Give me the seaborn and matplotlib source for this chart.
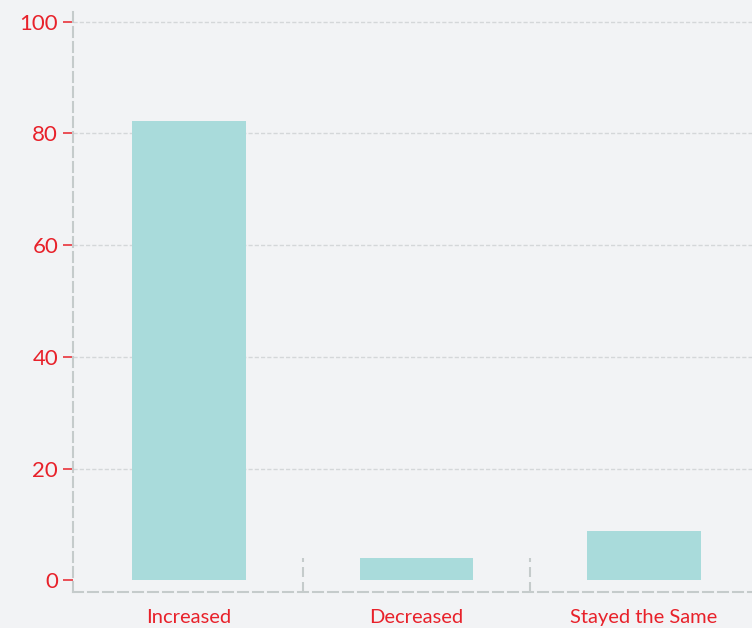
import numpy as np
import pandas as pd
import seaborn as sns
import matplotlib.pyplot as plt

categories = ['Increased', 'Decreased', 'Stayed the Same']
values = [82.3, 4.1, 8.9]
yticks = [0, 20, 40, 60, 80, 100]

BG = '#f2f3f5'
BAR = '#a9dbdb'
RED = '#e8212a'
GRAY = '#c5cbcb'

sns.set_theme(style='white')
plt.rcParams['font.family'] = ['Lato', 'DejaVu Sans']

df = pd.DataFrame({'cat': categories, 'val': values})

fig = plt.figure(figsize=(7.52, 6.28), dpi=100, facecolor=BG)
ax = fig.add_axes([73 / 752, 36 / 628, 679 / 752, 582 / 628])
ax.set_facecolor(BG)

sns.barplot(data=df, x='cat', y='val', color=BAR, width=0.5, saturation=1,
            linewidth=0, ax=ax, zorder=3)

ax.set_xlim(-0.51, 2.476)
ax.set_ylim(-2.06, 102.1)
ax.set_yticks(yticks)
ax.set_xlabel('')
ax.set_ylabel('')

# dotted horizontal grid
for y in yticks[1:]:
    ax.axhline(y, color='#d4d7d9', lw=1.0, ls=(0, (3, 1.5)), zorder=1)

# dashed spines
for side in ['top', 'right']:
    ax.spines[side].set_visible(False)
for side in ['left', 'bottom']:
    sp = ax.spines[side]
    sp.set_color(GRAY)
    sp.set_linewidth(1.5)
    sp.set_linestyle((0, (4.8, 2.4)))

# category separators
for i in range(1, len(categories)):
    ax.plot([i - 0.5, i - 0.5], [-2.06, 4.0], color=GRAY, lw=1.5,
            ls=(0, (4.8, 2.4)), zorder=2, clip_on=False)

ax.tick_params(axis='y', left=True, colors=RED, length=7.2, width=1.1, pad=3.5, labelsize=16)
ax.tick_params(axis='x', bottom=False, colors=RED, length=0, pad=12, labelsize=14.5)

fig.savefig('out.png', dpi=100, facecolor=BG)
